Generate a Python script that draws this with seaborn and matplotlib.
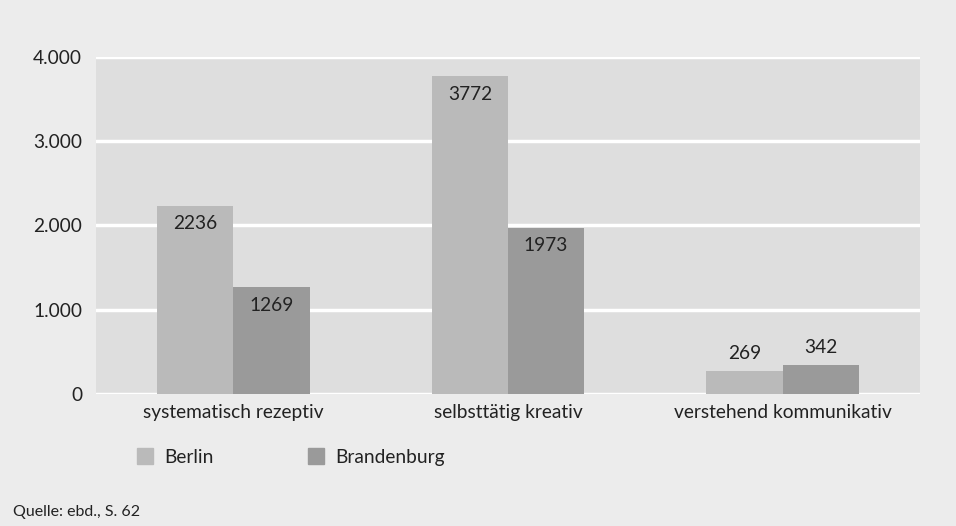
import pandas as pd
import numpy as np
import matplotlib.pyplot as plt
import seaborn as sns

# Daten
kategorien = ['systematisch rezeptiv', 'selbsttätig kreativ', 'verstehend kommunikativ']
berlin = [2236, 3772, 269]
brandenburg = [1269, 1973, 342]
y_ticks = [0, 1000, 2000, 3000, 4000]
y_tick_labels = ['0', '1.000', '2.000', '3.000', '4.000']
quelle = 'Quelle: ebd., S. 62'

df = pd.DataFrame({
    'Kategorie': kategorien * 2,
    'Land': ['Berlin'] * 3 + ['Brandenburg'] * 3,
    'Wert': berlin + brandenburg,
})

sns.set_theme(style='darkgrid')
plt.rcParams['font.family'] = ['Lato', 'DejaVu Sans']

fs = 13.8
fig = plt.figure(figsize=(9.56, 5.26), dpi=100, facecolor='#ececec')
ax = fig.add_axes([0.1004, 0.251, 0.8619, 0.6406])
ax.set_facecolor('#dedede')

sns.barplot(data=df, x='Kategorie', y='Wert', hue='Land',
            palette=['#bababa', '#9a9a9a'], width=0.555, gap=0,
            saturation=1, linewidth=0, ax=ax, legend=False)

ax.set_xlim(-0.5, 2.5)
ax.set_ylim(0, 4000)
ax.set_yticks(y_ticks)
ax.set_yticklabels(y_tick_labels)
ax.grid(axis='y', color='white', linewidth=2.5)
ax.grid(axis='x', visible=False)
ax.set_axisbelow(True)
for s in ax.spines.values():
    s.set_visible(False)
ax.tick_params(axis='both', length=0, labelsize=fs, colors='#222222')
ax.tick_params(axis='x', pad=7)
ax.tick_params(axis='y', pad=10)
ax.set_xlabel('')
ax.set_ylabel('')

# Werte beschriften
for cont in ax.containers:
    for bar in cont:
        h = bar.get_height()
        xc = bar.get_x() + bar.get_width() / 2
        if h > 1000:
            ax.annotate(f'{int(h)}', (xc, h), xytext=(0, -13), textcoords='offset points',
                        ha='center', va='center', fontsize=fs, color='#222222')
        else:
            ax.annotate(f'{int(h)}', (xc, h), xytext=(0, 12.5), textcoords='offset points',
                        ha='center', va='center', fontsize=fs, color='#222222')

# Legende
handles = [plt.Rectangle((0, 0), 1, 1, color='#bababa'),
           plt.Rectangle((0, 0), 1, 1, color='#9a9a9a')]
fig.legend(handles, ['Berlin', 'Brandenburg'], loc='center left',
           bbox_to_anchor=(0.125, 0.131), ncol=2, frameon=False,
           fontsize=fs, handlelength=0.85, handleheight=0.85,
           handletextpad=0.6, columnspacing=4.9, labelcolor='#222222')

fig.text(0.0136, 0.027, quelle, fontsize=11.5, color='#222222', ha='left', va='center')

fig.savefig('out.png', dpi=100, facecolor=fig.get_facecolor())
